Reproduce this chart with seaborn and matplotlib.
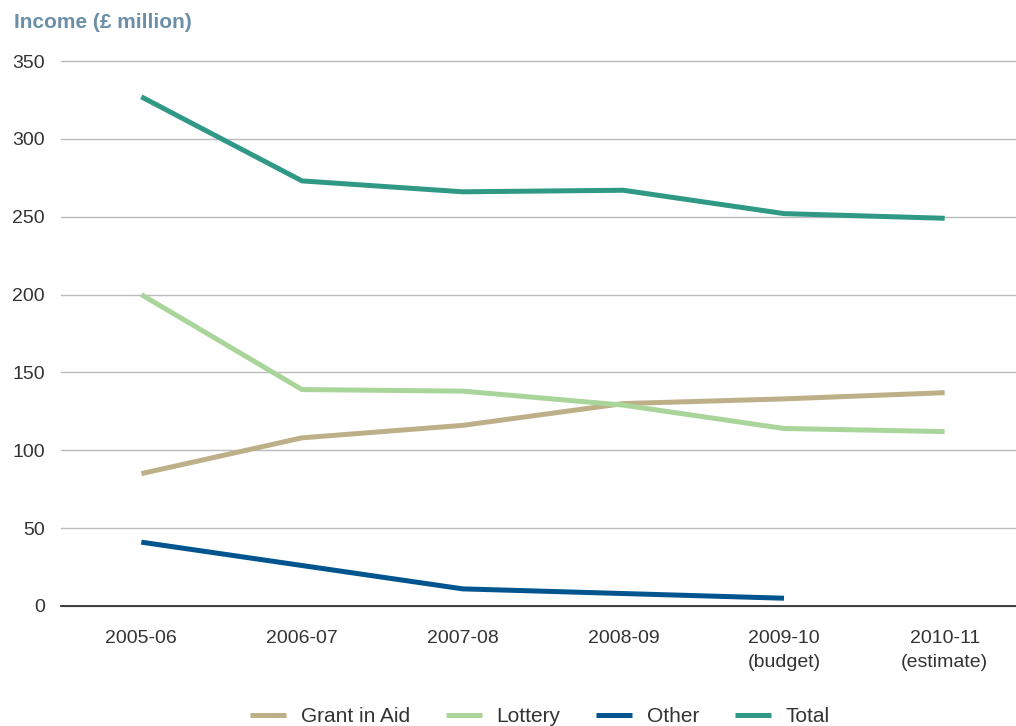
import matplotlib
matplotlib.use('Agg')
import matplotlib.pyplot as plt
import seaborn as sns
import pandas as pd
import numpy as np

# Chart data
years = ['2005-06', '2006-07', '2007-08', '2008-09', '2009-10\n(budget)', '2010-11\n(estimate)']
grant_in_aid = [85, 108, 116, 130, 133, 137]
lottery = [200, 139, 138, 129, 114, 112]
other = [41, 26, 11, 8, 5, np.nan]
total = [327, 273, 266, 267, 252, 249]

series_names = ['Grant in Aid', 'Lottery', 'Other', 'Total']
series_colors = ['#bdb089', '#a9d59b', '#00558f', '#2f9985']

# Build long-form table for seaborn
rows = []
for name, vals in zip(series_names, [grant_in_aid, lottery, other, total]):
    for yr, v in zip(years, vals):
        rows.append({'Year': yr, 'Income': v, 'Series': name})
df = pd.DataFrame(rows).dropna()

sns.set_style('white')
plt.rcParams['font.family'] = ['Liberation Sans', 'DejaVu Sans']

fig = plt.figure(figsize=(10.16, 7.26), dpi=100)
ax = fig.add_axes([61 / 1016, 120 / 726, 964 / 1016, 545 / 726])

sns.lineplot(data=df, x='Year', y='Income', hue='Series', hue_order=series_names,
             palette=series_colors, linewidth=3.6, sort=False, ax=ax, legend=True)
for ln in ax.lines:
    ln.set_solid_capstyle('butt')
    ln.set_solid_joinstyle('round')

ax.set_xlim(-0.5, len(years) - 0.5)
ax.set_ylim(0, 350)
ax.set_yticks(range(0, 351, 50))
ax.set_xticks(range(len(years)))
ax.set_xticklabels(years, fontsize=14, color='#333333', linespacing=1.55)
ax.set_xticks(np.arange(-0.5, len(years), 1), minor=True)
ax.tick_params(axis='x', which='major', length=0, pad=17)
ax.tick_params(axis='x', which='minor', length=7, width=1, color='#222222', direction='out')
ax.tick_params(axis='y', length=0, pad=11.5, labelsize=14, labelcolor='#333333')

ax.yaxis.grid(True, color='#bbbbbb', linewidth=1)
ax.set_axisbelow(True)
for ln in ax.get_ygridlines():
    ln.set_clip_on(False)
for s in ['top', 'right', 'left']:
    ax.spines[s].set_visible(False)
ax.spines['bottom'].set_color('#222222')
ax.spines['bottom'].set_linewidth(1.2)

ax.set_xlabel('')
ax.set_ylabel('')

fig.text(14 / 1016, 1 - 22 / 726, 'Income (£ million)', fontsize=15, fontweight='bold',
         color='#6b8fa8', ha='left', va='center')

handles, labels = ax.get_legend_handles_labels()
ax.legend(handles, labels, ncol=4, loc='center', bbox_to_anchor=(540 / 1016, 1 - 717 / 726),
          bbox_transform=fig.transFigure, frameon=False, fontsize=15, handlelength=1.75,
          handletextpad=0.7, columnspacing=1.7, labelcolor='#333333')

fig.savefig('out.png', dpi=100)
